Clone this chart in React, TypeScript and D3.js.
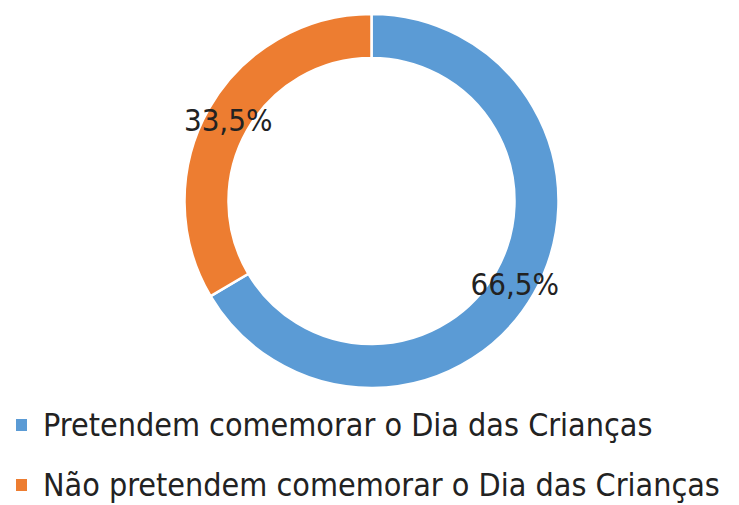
import React from 'react';
import * as d3 from 'd3';

const categories = ['Pretendem comemorar o Dia das Crianças', 'Não pretendem comemorar o Dia das Crianças'];
const values = [66.5, 33.5];
const colors = ['#5B9BD5', '#ED7D31'];

const W = 739;
const H = 505;
const cx = 371.5;
const cy = 201;
const outerR = 187;
const innerR = 143;
const font = '"Liberation Sans Narrow", "DejaVu Sans Condensed", sans-serif';

export default function App() {
  const data = values.map((v, i) => ({ v, name: categories[i], color: colors[i] }));
  const pie = d3.pie<any>().value(d => d.v).sort(null);
  const arcs = pie(data);
  const arc = d3.arc<any>().innerRadius(innerR).outerRadius(outerR);
  const fmt = (v: number) => v.toFixed(1).replace('.', ',') + '%';

  return (
    <svg width={W} height={H} style={{ position: 'absolute', left: 0, top: 0 }}>
      <rect width={W} height={H} fill="#fff" />
      <g transform={`translate(${cx},${cy})`}>
        {arcs.map((a, i) => (
          <path key={i} d={arc(a) || ''} fill={a.data.color} stroke="#fff" strokeWidth={2.5} />
        ))}
        {arcs.map((a, i) => {
          const [x, y] = arc.centroid(a);
          return (
            <text key={'l' + i} x={x} y={y} dy="0.38em" textAnchor="middle"
              fontFamily={font} fontSize={31} fill="#222">
              {fmt(a.data.v)}
            </text>
          );
        })}
      </g>
      {data.map((d, i) => (
        <g key={'lg' + i} transform={`translate(16,${419 + i * 60})`}>
          <rect width={11} height={12} fill={d.color} />
          <text x={27} y={17} fontFamily={font} fontSize={32} fill="#222">{d.name}</text>
        </g>
      ))}
    </svg>
  );
}
